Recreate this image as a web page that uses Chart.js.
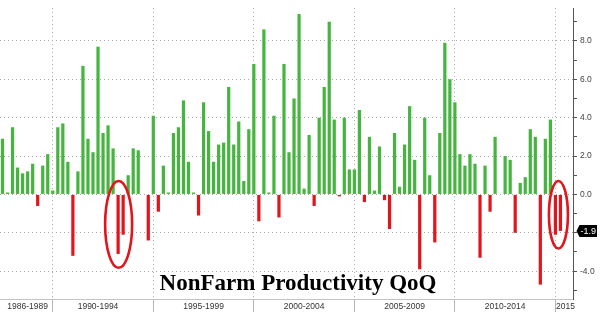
<!DOCTYPE html>
<html>
<head>
<meta charset="utf-8">
<script src="https://cdn.jsdelivr.net/npm/chart.js@4.4.1/dist/chart.umd.min.js"></script>
<style>
  html, body { margin: 0; padding: 0; background: #fff; }
  #wrap { position: relative; width: 600px; height: 312px; }
</style>
</head>
<body>
<div id="wrap"><canvas id="chart-productivity"></canvas></div>
<script>
// Nonfarm productivity, % QoQ annualised, from Q2 1987 to Q1 2015
const firstYear = 1987;
const firstQuarter = 2;
const emptySlots = 2; // room left on the right of the last bar

const productivity = [
  2.9, 0.1, 3.5, 1.4, 1.1, 1.2, 1.6, -0.6, 1.5, 2.1,
  0.2, 3.5, 3.7, 1.7, -3.2, 1.2, 6.7, 2.9, 2.2, 7.7,
  3.2, 3.6, 2.4, -3.1, -2.1, 1.0, 2.4, 2.3, 0.0, -2.4,
  4.1, -0.9, 1.5, 0.1, 3.2, 3.5, 4.9, 1.7, 0.1, -1.1,
  4.8, 3.3, 1.7, 2.6, 2.7, 5.6, 2.6, 3.8, 0.7, 3.4,
  6.8, -1.4, 8.6, 0.1, 4.1, -1.2, 6.8, 2.2, 5.0, 9.4,
  0.3, 3.1, -0.6, 4.0, 5.6, 9.0, 3.9, -0.1, 4.0, 1.3,
  1.3, 4.4, -0.4, 3.0, 0.2, 2.5, -0.3, -1.8, 3.2, 0.4,
  2.6, 4.6, 1.8, -3.9, 4.0, 1.0, -2.5, 3.2, 7.9, 6.0,
  4.8, 2.1, 1.5, 2.1, 1.6, -3.3, 1.5, -0.9, 3.0, 0.0,
  2.0, 1.8, -2.0, 0.6, 0.9, 3.4, 3.0, -4.7, 2.9, 3.9,
  -2.1, -1.9
];

// bottom axis text and the quarter it sits under
const periodNames = ['1986-1989', '1990-1994', '1995-1999', '2000-2004', '2005-2009', '2010-2014', '2015'];
const periodAnchors = ['1988Q3', '1992Q1', '1997Q2', '2002Q2', '2007Q2', '2012Q2', '2015Q2'];

// labelled ticks on the right axis
const yTicks = [8, 6, 4, 2, 0, -2, -4];

// the two pairs of bars circled in red
const circled = [['1993Q1', '1993Q2'], ['2014Q4', '2015Q1']];

const lastValueLabel = '-1.9';

// quarter labels
const quarters = [];
{
  let yr = firstYear, q = firstQuarter;
  for (let i = 0; i < productivity.length + emptySlots; i++) {
    quarters.push(yr + 'Q' + q);
    q++;
    if (q > 4) { q = 1; yr++; }
  }
}

const GREEN = '#45b53f';
const RED = '#e2141c';
const GRID = '#a9a9a9';

function isBlockEnd(label) {
  // dotted separators sit on the last quarter of every 5-year block
  if (!label) return false;
  const yr = parseInt(label.slice(0, 4), 10);
  return label.endsWith('Q4') && yr % 5 === 4;
}

const overlayPlugin = {
  id: 'overlay',
  afterDraw(chart) {
    const ctx = chart.ctx;
    const xs = chart.scales.x;
    const ys = chart.scales.y;

    // red ellipses round the highlighted quarters
    const radiusX = [13.5, 9.5];
    const shiftX = [-2, 0.5];
    ctx.save();
    ctx.strokeStyle = RED;
    ctx.lineWidth = 2.6;
    circled.forEach((pair, i) => {
      const i1 = quarters.indexOf(pair[0]);
      const i2 = quarters.indexOf(pair[1]);
      const cx = (xs.getPixelForValue(i1) + xs.getPixelForValue(i2)) / 2 + shiftX[i];
      const low = Math.min(productivity[i1], productivity[i2]);
      const top = ys.getPixelForValue(0.7);
      const bottom = ys.getPixelForValue(low - 0.72);
      ctx.beginPath();
      ctx.ellipse(cx, (top + bottom) / 2, radiusX[i], (bottom - top) / 2, 0, 0, Math.PI * 2);
      ctx.stroke();
    });
    ctx.restore();

    // title
    ctx.save();
    ctx.fillStyle = '#000';
    ctx.font = 'bold 23px "Liberation Serif", "Times New Roman", serif';
    ctx.textAlign = 'center';
    ctx.textBaseline = 'alphabetic';
    ctx.fillText('NonFarm Productivity QoQ', 298, 290);
    ctx.restore();

    // last value flag on the right axis
    const lastY = ys.getPixelForValue(productivity[productivity.length - 1]);
    const left = ys.left + 3.5;
    ctx.save();
    ctx.fillStyle = '#000';
    ctx.beginPath();
    ctx.moveTo(left, lastY);
    ctx.lineTo(left + 3, lastY - 6);
    ctx.lineTo(597, lastY - 6);
    ctx.lineTo(597, lastY + 6);
    ctx.lineTo(left + 3, lastY + 6);
    ctx.closePath();
    ctx.fill();
    ctx.fillStyle = '#fff';
    ctx.font = '9px "Liberation Sans", Arial, sans-serif';
    ctx.textAlign = 'center';
    ctx.textBaseline = 'middle';
    ctx.fillText(lastValueLabel, (left + 3 + 597) / 2, lastY + 0.5);
    ctx.restore();
  }
};

document.addEventListener('DOMContentLoaded', function () {
  const ctx = document.getElementById('chart-productivity').getContext('2d');
  new Chart(ctx, {
    type: 'bar',
    data: {
      labels: quarters,
      datasets: [{
        label: 'NonFarm Productivity QoQ',
        data: productivity,
        backgroundColor: productivity.map(v => v >= 0 ? GREEN : RED),
        barPercentage: 0.64,
        categoryPercentage: 1.0
      }]
    },
    options: {
      responsive: true,
      maintainAspectRatio: false,
      animation: false,
      layout: { padding: 0 },
      plugins: {
        legend: { display: false },
        tooltip: { enabled: false },
        title: { display: false }
      },
      scales: {
        x: {
          offset: true,
          grid: {
            offset: false,
            color: c => isBlockEnd(quarters[c.index]) ? GRID : 'rgba(0,0,0,0)',
            tickColor: c => isBlockEnd(quarters[c.index]) ? '#b5b5b5' : 'rgba(0,0,0,0)',
            lineWidth: 1,
            tickLength: 13
          },
          border: { display: true, color: '#c4c4c4', dash: [1, 3] },
          ticks: {
            autoSkip: false,
            maxRotation: 0,
            minRotation: 0,
            padding: -10,
            color: '#333',
            font: { family: '"Liberation Sans", Arial, sans-serif', size: 8.5 },
            callback: function (val, idx) {
              const k = periodAnchors.indexOf(quarters[idx]);
              return k >= 0 ? periodNames[k] : '';
            }
          },
          afterFit: scale => { scale.height = 13; }
        },
        y: {
          position: 'right',
          min: -5.45,
          max: 9.71,
          grid: {
            color: c => yTicks.includes(c.tick.value) ? GRID : 'rgba(0,0,0,0)',
            tickColor: '#555',
            tickLength: 4,
            lineWidth: 1
          },
          border: { display: true, color: '#555', width: 1, dash: [1, 3] },
          ticks: {
            stepSize: 1,
            includeBounds: false,
            padding: 3,
            color: '#444',
            font: { family: '"Liberation Sans", Arial, sans-serif', size: 8.5 },
            callback: v => yTicks.includes(v) ? v.toFixed(1) : ''
          },
          afterFit: scale => { scale.width = 27; }
        }
      }
    },
    plugins: [overlayPlugin]
  });
});
</script>
</body>
</html>
